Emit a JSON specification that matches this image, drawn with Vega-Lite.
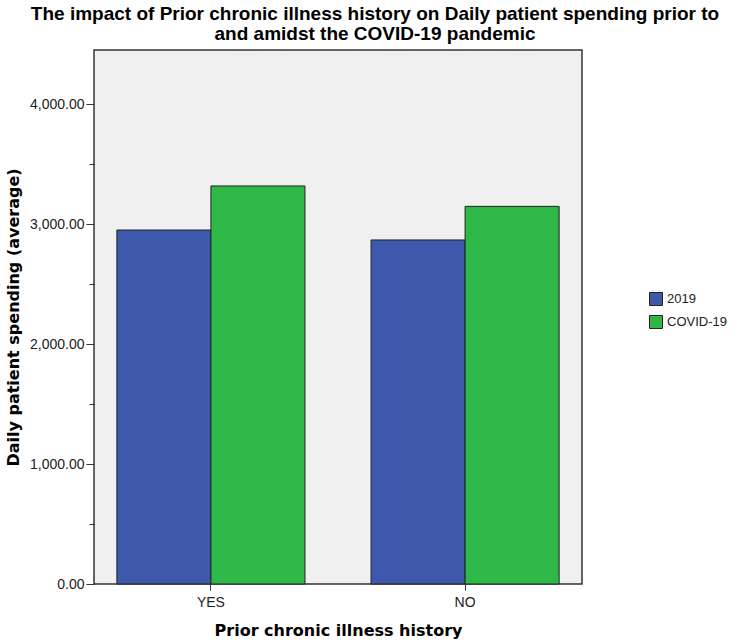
{
  "$schema": "https://vega.github.io/schema/vega-lite/v6.json",
  "width": 488,
  "height": 534,
  "autosize": {"type": "none"},
  "padding": {"left": 94, "top": 50, "right": 168, "bottom": 60},
  "background": "white",
  "title": {
    "text": ["The impact of Prior chronic illness history on Daily patient spending prior to", "and amidst the COVID-19 pandemic"],
    "font": "Liberation Sans",
    "fontSize": 19,
    "fontWeight": "bold",
    "color": "#000000",
    "anchor": "middle",
    "dx": 37,
    "offset": 6,
    "lineHeight": 20
  },
  "config": {
    "view": {"fill": "#F0F0F0", "stroke": "#333333", "strokeWidth": 1.5},
    "axis": {"grid": false, "domain": false}
  },
  "data": {
    "values": [
      {"history": "YES", "period": "2019", "spending": 2950},
      {"history": "YES", "period": "COVID-19", "spending": 3317},
      {"history": "NO", "period": "2019", "spending": 2867},
      {"history": "NO", "period": "COVID-19", "spending": 3147}
    ]
  },
  "mark": {"type": "bar", "stroke": "#222222", "strokeWidth": 1},
  "encoding": {
    "x": {
      "field": "history",
      "type": "nominal",
      "sort": ["YES", "NO"],
      "scale": {"paddingInner": 0.26, "paddingOuter": 0.09},
      "axis": {
        "title": "Prior chronic illness history",
        "titleFont": "DejaVu Sans",
        "titleFontSize": 16,
        "titleFontWeight": "bold",
        "titleColor": "#000000",
        "titlePadding": 13,
        "labelFont": "Liberation Sans",
        "labelFontSize": 14,
        "labelColor": "#222222",
        "labelAngle": 0,
        "labelPadding": 5,
        "tickSize": 6,
        "tickColor": "#333333",
        "tickBand": "center"
      }
    },
    "xOffset": {"field": "period", "type": "nominal", "scale": {"paddingInner": 0, "paddingOuter": 0}},
    "y": {
      "field": "spending",
      "type": "quantitative",
      "scale": {"domain": [0, 4450], "nice": false, "zero": true},
      "axis": {
        "title": "Daily patient spending (average)",
        "titleFont": "DejaVu Sans",
        "titleFontSize": 16,
        "titleFontWeight": "bold",
        "titleColor": "#000000",
        "titlePadding": 8,
        "values": [0, 500, 1000, 1500, 2000, 2500, 3000, 3500, 4000],
        "labelExpr": "datum.value % 1000 === 0 ? format(datum.value, ',.2f') : ''",
        "labelFont": "Liberation Sans",
        "labelFontSize": 14,
        "labelColor": "#222222",
        "labelPadding": 2,
        "tickColor": "#333333",
        "tickSize": {"condition": {"test": "datum.value % 1000 === 0", "value": 8}, "value": 5}
      }
    },
    "color": {
      "field": "period",
      "type": "nominal",
      "scale": {"domain": ["2019", "COVID-19"], "range": ["#3E58AC", "#2EB848"]},
      "legend": {
        "title": null,
        "orient": "none",
        "legendX": 555,
        "legendY": 242,
        "symbolType": "square",
        "symbolSize": 169,
        "symbolStrokeColor": "#222222",
        "symbolStrokeWidth": 1,
        "symbolOpacity": 1,
        "labelFont": "Liberation Sans",
        "labelFontSize": 13,
        "labelColor": "#222222",
        "rowPadding": 5,
        "labelOffset": 4
      }
    }
  }
}
